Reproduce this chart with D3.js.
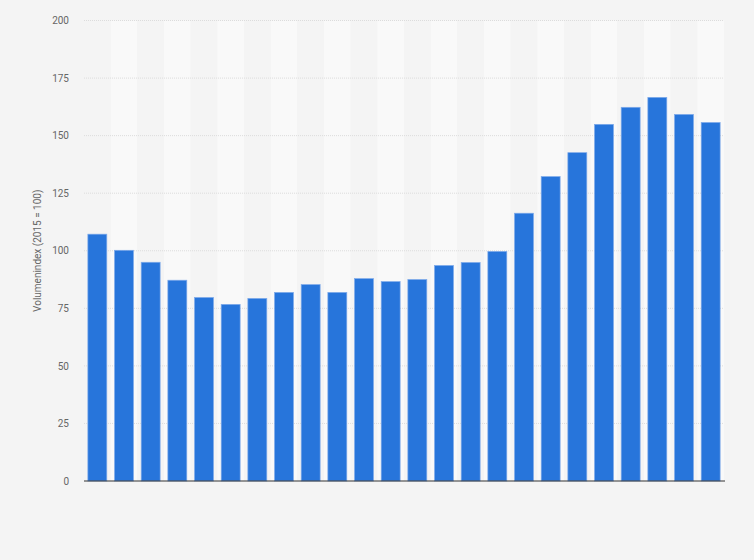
<!DOCTYPE html>
<html>
<head>
<meta charset="utf-8">
<script src="https://cdn.jsdelivr.net/npm/d3@7"></script>
<style>
  body { margin: 0; background: #f4f4f4; }
  text { font-family: Roboto, "Liberation Sans", Arial, sans-serif; }
</style>
</head>
<body>
<div id="chart"></div>
<script>
var svgWidth = 754;
var svgHeight = 560;
var margin = {top: 20.5, right: 30, bottom: 79, left: 84};
var width = svgWidth - margin.left - margin.right;
var height = svgHeight - margin.top - margin.bottom;

// 24 Jahreswerte, keine Achsenbeschriftung sichtbar
var categories = d3.range(1, 25).map(function(i) { return "P" + i; });
var values = [107.2, 100.2, 95.0, 87.2, 79.7, 76.7, 79.3, 81.9, 85.3, 81.9,
              87.9, 86.6, 87.5, 93.6, 94.9, 99.7, 116.3, 132.2, 142.6, 154.9,
              162.3, 166.6, 159.2, 155.7];
var yTicks = [0, 25, 50, 75, 100, 125, 150, 175, 200];

var svg = d3.select("#chart")
    .append("svg")
    .attr("width", svgWidth)
    .attr("height", svgHeight);

svg.append("rect")
    .attr("width", svgWidth)
    .attr("height", svgHeight)
    .attr("fill", "#f4f4f4");

var g = svg.append("g")
    .attr("transform", "translate(" + margin.left + "," + margin.top + ")");

var x = d3.scaleBand()
    .domain(categories)
    .range([0, width])
    .paddingInner(0.29)
    .paddingOuter(0.145);

var y = d3.scaleLinear()
    .domain([0, 200])
    .range([height, 0]);

// alternierende Spalten
g.selectAll(".stripe")
    .data(categories)
    .enter().append("rect")
    .attr("class", "stripe")
    .attr("x", function(d) { return x(d) - x.step() * x.paddingInner() / 2; })
    .attr("y", 0)
    .attr("width", x.step())
    .attr("height", height)
    .attr("fill", function(d, i) { return i % 2 ? "#f9f9f9" : "#f4f4f4"; });

// Gitterlinien
g.selectAll(".grid")
    .data(yTicks.slice(1))
    .enter().append("line")
    .attr("class", "grid")
    .attr("x1", 0)
    .attr("x2", width)
    .attr("y1", function(d) { return y(d); })
    .attr("y2", function(d) { return y(d); })
    .attr("stroke", "#dcdcdc")
    .attr("stroke-width", 1)
    .attr("stroke-dasharray", "1,1");

g.selectAll(".bar")
    .data(values)
    .enter().append("rect")
    .attr("class", "bar")
    .attr("x", function(d, i) { return x(categories[i]); })
    .attr("y", function(d) { return y(d); })
    .attr("width", x.bandwidth())
    .attr("height", function(d) { return height - y(d); })
    .attr("fill", "#2775db")
    .attr("stroke", "#7eaaea")
    .attr("stroke-width", 0.7);

var yAxis = g.append("g")
    .call(d3.axisLeft(y).tickValues(yTicks).tickSize(0).tickPadding(15));
yAxis.select(".domain").remove();
yAxis.selectAll("text")
    .attr("fill", "#666")
    .style("font-size", "10px");

g.append("line")
    .attr("x1", 0)
    .attr("x2", width + 1)
    .attr("y1", height)
    .attr("y2", height)
    .attr("stroke", "#333")
    .attr("stroke-width", 1.2);

g.append("text")
    .attr("transform", "rotate(-90)")
    .attr("x", -y(100))
    .attr("y", -43)
    .attr("text-anchor", "middle")
    .attr("fill", "#666")
    .style("font-size", "10px")
    .text("Volumenindex (2015 = 100)");
</script>
</body>
</html>
